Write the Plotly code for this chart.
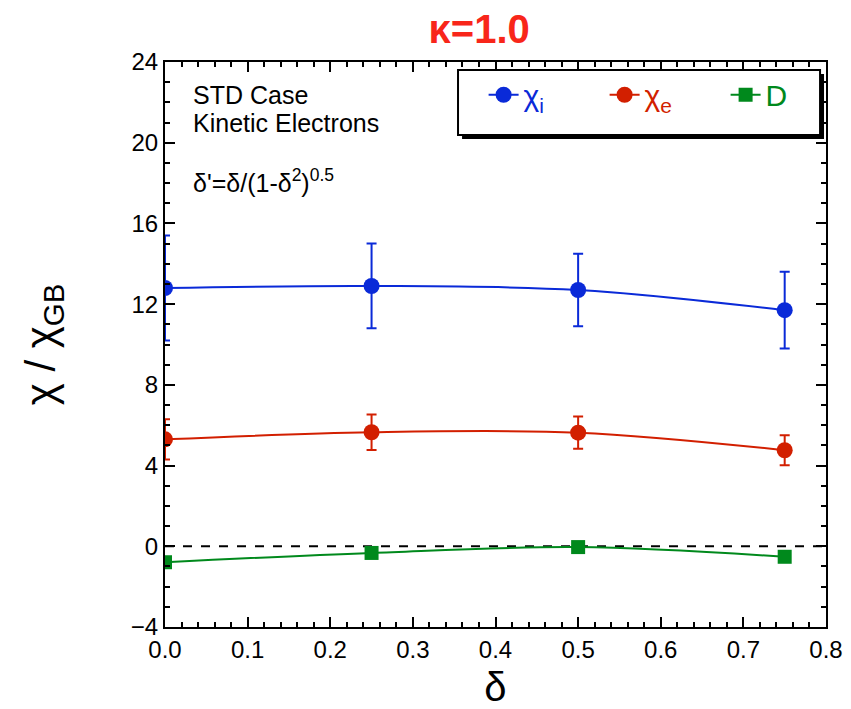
import plotly.graph_objects as go

# Triangularity scan at kappa = 1.0
delta = [0.0, 0.25, 0.5, 0.75]

chi_i = [12.8, 12.9, 12.7, 11.7]
chi_i_err = [2.6, 2.1, 1.8, 1.9]

chi_e = [5.3, 5.65, 5.63, 4.76]
chi_e_err = [1.0, 0.88, 0.8, 0.74]

diff_D = [-0.79, -0.33, -0.04, -0.52]

x_ticks = [0.0, 0.1, 0.2, 0.3, 0.4, 0.5, 0.6, 0.7, 0.8]
y_ticks = [-4, 0, 4, 8, 12, 16, 20, 24]

BLUE = "#0a2ad8"
RED = "#d21f00"
GREEN = "#00891c"
FONT = "Liberation Sans, Arial, sans-serif"

fig = go.Figure()

fig.add_trace(go.Scatter(
    x=delta, y=chi_i, mode="lines+markers", line_shape="spline",
    name='<span style="color:%s">χ<sub>i</sub></span>' % BLUE,
    line=dict(color=BLUE, width=2),
    marker=dict(color=BLUE, size=16, symbol="circle"),
    error_y=dict(type="data", array=chi_i_err, color=BLUE, thickness=2, width=5),
))
fig.add_trace(go.Scatter(
    x=delta, y=chi_e, mode="lines+markers", line_shape="spline",
    name='<span style="color:%s">χ<sub>e</sub></span>' % RED,
    line=dict(color=RED, width=2),
    marker=dict(color=RED, size=16, symbol="circle"),
    error_y=dict(type="data", array=chi_e_err, color=RED, thickness=2, width=5),
))
fig.add_trace(go.Scatter(
    x=delta, y=diff_D, mode="lines+markers", line_shape="spline",
    name='<span style="color:%s">D</span>' % GREEN,
    line=dict(color=GREEN, width=2),
    marker=dict(color=GREEN, size=14, symbol="square"),
))

# zero reference line
fig.add_shape(type="line", xref="paper", x0=0, x1=1, yref="y", y0=0, y1=0,
              line=dict(color="black", width=2, dash="dash"), layer="below")

# legend frame with drop shadow
fig.add_shape(type="rect", xref="paper", yref="paper",
              x0=0.4494, x1=0.9970, y0=0.8637, y1=0.9787,
              fillcolor="black", line=dict(width=0), layer="above")
fig.add_shape(type="rect", xref="paper", yref="paper",
              x0=0.4433, x1=0.9910, y0=0.8708, y1=0.9858,
              fillcolor="white", line=dict(color="black", width=2), layer="above")

axis_common = dict(
    showline=True, linecolor="black", linewidth=2, mirror="allticks",
    ticks="inside", ticklen=10, tickwidth=2, tickcolor="black",
    showgrid=False, zeroline=False, automargin=False,
    tickfont=dict(family=FONT, size=24, color="black"),
)

fig.update_xaxes(
    range=[0, 0.8], tickvals=x_ticks, ticktext=["%.1f" % v for v in x_ticks],
    minor=dict(dtick=0.02, ticks="inside", ticklen=5, tickwidth=2, tickcolor="black"),
    title=dict(text="δ", font=dict(family=FONT, size=40, color="black"), standoff=20),
    **axis_common,
)
fig.update_yaxes(
    range=[-4, 24], tickvals=y_ticks,
    minor=dict(dtick=1, ticks="inside", ticklen=5, tickwidth=2, tickcolor="black"),
    title=dict(text="χ / χ<sub>GB</sub>", font=dict(family=FONT, size=42, color="black"), standoff=62),
    **axis_common,
)

fig.add_annotation(text="STD Case", xref="paper", yref="paper",
                   x=0.040, y=0.9416, xanchor="left", yanchor="middle", showarrow=False,
                   font=dict(family=FONT, size=25, color="black"))
fig.add_annotation(text="Kinetic Electrons", xref="paper", yref="paper",
                   x=0.040, y=0.8920, xanchor="left", yanchor="middle", showarrow=False,
                   font=dict(family=FONT, size=25, color="black"))
fig.add_annotation(text="δ'=δ/(1-δ<sup>2</sup>)<sup>0.5</sup>", xref="paper", yref="paper",
                   x=0.040, y=0.790, xanchor="left", yanchor="middle", showarrow=False,
                   font=dict(family=FONT, size=25, color="black"))

fig.update_layout(
    width=851, height=709,
    margin=dict(l=165, r=25, t=62, b=82, autoexpand=False),
    paper_bgcolor="white", plot_bgcolor="white",
    title=dict(text="<b>κ=1.0</b>", x=0.563, xanchor="center", y=0.959, yanchor="middle",
               font=dict(family=FONT, size=40, color="#f8261a")),
    showlegend=True,
    legend=dict(orientation="h", x=0.482, y=0.988, xanchor="left", yanchor="top",
                bgcolor="rgba(0,0,0,0)", borderwidth=0,
                font=dict(family=FONT, size=30), entrywidth=76, itemwidth=30),
)

fig.write_html("out.html")
